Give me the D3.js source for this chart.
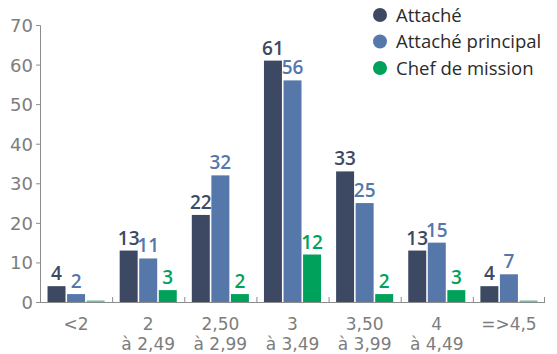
<!DOCTYPE html>
<html>
<head>
<meta charset="utf-8">
<script src="https://cdn.jsdelivr.net/npm/d3@7"></script>
<style>
  body { margin: 0; background: #fff; }
  svg { display: block; }
</style>
</head>
<body>
<div id="chart"></div>
<script>
// data
const categories = ["<2", "2|à 2,49", "2,50|à 2,99", "3|à 3,49", "3,50|à 3,99", "4|à 4,49", "=>4,5"];
const series = ["Attaché", "Attaché principal", "Chef de mission"];
const attache = [4, 13, 22, 61, 33, 13, 4];
const attachePrincipal = [2, 11, 32, 56, 25, 15, 7];
const chefDeMission = [0, 3, 2, 12, 2, 3, 0];
const yTicks = [0, 10, 20, 30, 40, 50, 60, 70];

const values = [attache, attachePrincipal, chefDeMission];
const colors = ["#3d4963", "#5677aa", "#00a15b"];

const width = 557, height = 354;
const margin = { top: 25, right: 12, bottom: 52, left: 40 };

const svg = d3.select("#chart")
    .append("svg")
    .attr("width", width)
    .attr("height", height);

// schalen
const x = d3.scaleBand()
    .domain(categories)
    .range([margin.left, width - margin.right])
    .padding(0);

const x1 = d3.scaleBand()
    .domain(series)
    .range([0, x.bandwidth()])
    .paddingInner(0.08)
    .paddingOuter(0.385);

const y = d3.scaleLinear()
    .domain([0, 70])
    .range([height - margin.bottom, margin.top]);

// y-as
const yAxis = svg.append("g")
    .attr("transform", "translate(" + margin.left + ",0)")
    .call(d3.axisLeft(y).tickValues(yTicks).tickSize(4).tickSizeOuter(4).tickPadding(3));
yAxis.selectAll("path, line").attr("stroke", "#8c8c8c");
yAxis.selectAll("text")
    .attr("fill", "#7d7d7d")
    .style("font-family", "DejaVu Sans, sans-serif")
    .style("font-size", "18px")
    .attr("dy", "0.36em");

// bars per groep
const rows = categories.map((c, i) => ({ cat: c, vals: series.map((s, j) => ({ s: s, v: values[j][i], j: j })) }));

const groups = svg.selectAll(".groep")
    .data(rows)
    .enter()
    .append("g")
    .attr("class", "groep")
    .attr("transform", d => "translate(" + x(d.cat) + ",0)");

groups.selectAll("rect")
    .data(d => d.vals)
    .enter()
    .append("rect")
    .attr("x", d => x1(d.s))
    .attr("width", x1.bandwidth())
    .attr("y", d => d.v === 0 ? y(0) - 1.5 : y(d.v))
    .attr("height", d => d.v === 0 ? 1.5 : y(0) - y(d.v))
    .attr("fill", d => colors[d.j])
    .attr("opacity", d => d.v === 0 ? 0.6 : 1);

// waarden boven de bars (0 krijgt geen label)
groups.selectAll(".waarde")
    .data(d => d.vals.filter(v => v.v > 0))
    .enter()
    .append("text")
    .attr("class", "waarde")
    .attr("x", d => x1(d.s) + x1.bandwidth() / 2)
    .attr("y", d => y(d.v) - 6)
    .attr("text-anchor", "middle")
    .attr("fill", d => colors[d.j])
    .style("font-family", "Open Sans, sans-serif")
    .style("font-weight", 600)
    .style("font-size", "19px")
    .text(d => d.v);

// x-as lijn met streepjes omhoog op de grenzen
const x0 = y(0);
svg.append("line")
    .attr("x1", margin.left).attr("x2", width - margin.right)
    .attr("y1", x0 + 0.5).attr("y2", x0 + 0.5)
    .attr("stroke", "#8c8c8c");

svg.selectAll(".grens")
    .data(categories.slice(1).concat(["end"]))
    .enter()
    .append("line")
    .attr("x1", d => d === "end" ? width - margin.right - 0.5 : x(d) + 0.5)
    .attr("x2", d => d === "end" ? width - margin.right - 0.5 : x(d) + 0.5)
    .attr("y1", x0 - 5).attr("y2", x0)
    .attr("stroke", "#8c8c8c");

// categorie labels, twee regels
const labels = svg.selectAll(".cat")
    .data(categories)
    .enter()
    .append("text")
    .attr("class", "cat")
    .attr("x", d => x(d) + x.bandwidth() / 2)
    .attr("y", 330)
    .attr("text-anchor", "middle")
    .attr("fill", "#7d7d7d")
    .style("font-family", "DejaVu Sans, sans-serif")
    .style("font-size", "17px");

labels.selectAll("tspan")
    .data(d => d.split("|").map(t => ({ t: t, x: x(d) + x.bandwidth() / 2 })))
    .enter()
    .append("tspan")
    .attr("x", d => d.x)
    .attr("dy", (d, i) => i === 0 ? 0 : 20)
    .text(d => d.t);

// legenda
const legend = svg.selectAll(".legenda")
    .data(series)
    .enter()
    .append("g")
    .attr("class", "legenda")
    .attr("transform", (d, i) => "translate(380," + (15 + i * 26.5) + ")");

legend.append("circle")
    .attr("r", 7)
    .attr("fill", (d, i) => colors[i]);

legend.append("text")
    .attr("x", 16)
    .attr("dy", "0.36em")
    .attr("fill", "#2b2b2b")
    .style("font-family", "Open Sans, sans-serif")
    .style("font-size", "18.5px")
    .text(d => d);
</script>
</body>
</html>
